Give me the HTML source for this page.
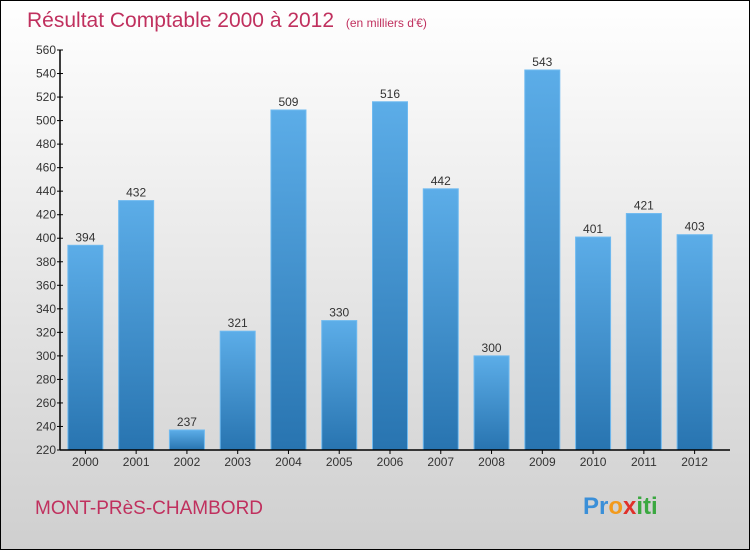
<!DOCTYPE html>
<html><head><meta charset="utf-8"><style>
body{margin:0}
#c{width:750px;height:550px;position:relative;font-family:"Liberation Sans",sans-serif;}
</style></head><body>
<div id="c">
<svg width="750" height="550" id="svg">
<defs>
<linearGradient id="bg" x1="0" y1="0" x2="0" y2="1"><stop offset="0" stop-color="#ffffff"/><stop offset="1" stop-color="#cfcfcf"/></linearGradient>
<linearGradient id="bar" x1="0" y1="0" x2="0" y2="1"><stop offset="0" stop-color="#5cade8"/><stop offset="1" stop-color="#2874b0"/></linearGradient>
</defs>
<rect x="0.5" y="0.5" width="749" height="549" fill="url(#bg)" stroke="#000"/>
<text x="27" y="27" font-size="21" fill="#c0305e">Résultat Comptable 2000 à 2012 <tspan font-size="12" dx="6">(en milliers d'€)</tspan></text>
<text x="35" y="514" font-size="19" fill="#c0305e">MONT-PRèS-CHAMBORD</text>
<text x="583" y="514" font-size="24" font-weight="bold"><tspan fill="#3a8fd8">Pr</tspan><tspan fill="#f29a1c">o</tspan><tspan fill="#e0302a">x</tspan><tspan fill="#3aa840">iti</tspan></text>
<g id="plot"></g>
</svg>
</div>
<script>
const categories=["2000","2001","2002","2003","2004","2005","2006","2007","2008","2009","2010","2011","2012"];
const values=[394,432,237,321,509,330,516,442,300,543,401,421,403];
const yTicks=[220,240,260,280,300,320,340,360,380,400,420,440,460,480,500,520,540,560];
const yMin=220,yMax=560,pTop=50,pBottom=450,pLeft=60,pRight=720;
const y=v=>pBottom-(v-yMin)/(yMax-yMin)*(pBottom-pTop);
const step=(pRight-pLeft)/categories.length;
const x=i=>pLeft+step*(i+0.5);
const g=document.getElementById('plot');
const NS="http://www.w3.org/2000/svg";
function mk(t,a){const e=document.createElementNS(NS,t);for(const k in a)e.setAttribute(k,a[k]);g.appendChild(e);return e;}
values.forEach((v,i)=>{
 const r=mk('rect',{x:x(i)-17.5,y:y(v),width:35,height:pBottom-y(v),fill:'url(#bar)',stroke:'#6fbaf0','stroke-width':1});
 
 
 const t=mk('text',{x:x(i),y:y(v)-4,'text-anchor':'middle','font-size':12,fill:'#333'});
 t.textContent=v;
 
 
 const c=mk('text',{x:x(i),y:pBottom+16,'text-anchor':'middle','font-size':12,fill:'#333'});
 c.textContent=categories[i];
 
 
 const tk=mk('line',{x1:x(i),x2:x(i),y1:pBottom,y2:pBottom+4,stroke:'#000'});
 
 
});
yTicks.forEach(v=>{
 const l=mk('line',{x1:pLeft-3,x2:pLeft+3,y1:y(v),y2:y(v),stroke:'#000'});
 
 
 const t=mk('text',{x:pLeft-4,y:y(v)+4,'text-anchor':'end','font-size':12,fill:'#333'});
 t.textContent=v;
 
 
});
const ya=mk('line',{x1:pLeft,x2:pLeft,y1:pTop,y2:pBottom,stroke:'#000','stroke-width':1.5});


const xa=mk('line',{x1:pLeft,x2:pRight+10,y1:pBottom,y2:pBottom,stroke:'#000','stroke-width':1.5});


</script>
</body></html>
